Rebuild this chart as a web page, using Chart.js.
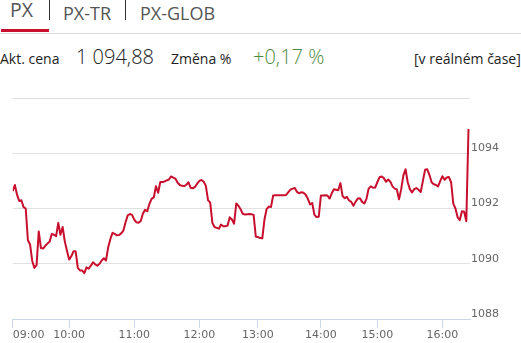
<!DOCTYPE html>
<html>
<head>
<meta charset="utf-8">
<script src="https://cdn.jsdelivr.net/npm/chart.js@4/dist/chart.umd.min.js"></script>
<style>
  html, body { margin: 0; padding: 0; background: #fff; }
  body { width: 521px; height: 343px; position: relative; overflow: hidden; font-family: "Open Sans", sans-serif; }
  .t { position: absolute; white-space: nowrap; line-height: 1; }
  .big { font-size: 20px; font-weight: 300; }
  .sep { position: absolute; top: 0; width: 1px; height: 20px; background: #333; }
  #tab-active { position: absolute; left: 1px; top: 29px; width: 48px; height: 3px; background: #c8102e; }
  #tab-line { position: absolute; left: 0; top: 33px; width: 521px; height: 1px; background: #ddd; }
  #chart-wrap { position: absolute; left: 0; top: 88px; width: 521px; height: 255px; }
</style>
</head>
<body>
  <!-- tabs -->
  <div class="t" style="left:10px; top:0px; font-size:19.5px; color:#555">PX</div>
  <div class="sep" style="left:49px"></div>
  <div class="t" style="left:63px; top:4px; font-size:18px; color:#555">PX-TR</div>
  <div class="sep" style="left:125px"></div>
  <div class="t" style="left:140px; top:4px; font-size:18px; color:#555">PX-GLOB</div>
  <div id="tab-active"></div>
  <div id="tab-line"></div>

  <!-- quote row -->
  <div class="t" style="left:0px; top:52px; font-size:14px; color:#222">Akt. cena</div>
  <div class="t big" style="left:76px; top:46.5px; color:#222">1 094,88</div>
  <div class="t" style="left:171px; top:52px; font-size:14px; color:#222">Změna %</div>
  <div class="t big" style="left:253px; top:46.5px; color:#4f8a45">+0,17 %</div>
  <div class="t" style="left:414px; top:52px; font-size:14px; color:#222">[v reálném čase]</div>

  <div id="chart-wrap"><canvas id="chart-canvas"></canvas></div>

<script>
// --- PX intraday data (one array per trading hour) ---
const hours = ['09:00', '10:00', '11:00', '12:00', '13:00', '14:00', '15:00', '16:00'];

const s09 = [1092.63, 1092.85, 1092.5, 1092.27, 1092.3, 1092.05, 1092.0, 1090.85, 1090.7, 1090.1,
  1089.85, 1089.95, 1091.17, 1090.57, 1090.55, 1090.65, 1090.73, 1090.8, 1091.08, 1091.05,
  1091.0, 1091.48, 1091.05, 1091.33, 1090.81, 1090.47];
const s10 = [1090.15, 1090.27, 1090.45, 1090.45, 1089.85, 1089.76, 1089.76, 1089.66, 1089.87, 1089.82,
  1089.93, 1090.05, 1089.98, 1089.93, 1090.0, 1090.12, 1090.2, 1090.12, 1090.6, 1090.9,
  1091.12, 1091.08, 1091.03, 1091.04, 1091.1, 1091.2, 1091.5, 1091.75, 1091.8, 1091.77];
const s11 = [1091.6, 1091.5, 1091.48, 1091.55, 1091.82, 1091.95, 1091.9, 1092.17, 1092.35, 1092.4,
  1092.81, 1092.57, 1092.96, 1092.96, 1092.98, 1093.02, 1093.05, 1093.16, 1093.12, 1093.08,
  1092.93, 1092.85, 1092.82, 1092.81, 1092.86, 1092.95, 1092.75, 1092.73, 1092.78, 1092.9];
const s12 = [1093.0, 1093.03, 1092.97, 1092.82, 1092.3, 1092.21, 1091.48, 1091.33, 1091.3, 1091.27,
  1091.42, 1091.36, 1091.36, 1091.38, 1091.68, 1091.6, 1091.45, 1092.18, 1092.1, 1091.97,
  1091.81, 1091.78, 1091.79, 1091.8, 1091.79, 1091.77, 1090.98];
const s13 = [1090.97, 1090.93, 1090.92, 1091.6, 1091.98, 1092.07, 1092.05, 1092.47, 1092.48, 1092.48,
  1092.48, 1092.48, 1092.48, 1092.49, 1092.59, 1092.68, 1092.72, 1092.74, 1092.6, 1092.55,
  1092.59, 1092.57, 1092.5, 1092.35, 1092.15, 1092.2, 1091.78, 1091.69, 1091.7];
const s14 = [1092.47, 1092.47, 1092.48, 1092.47, 1092.36, 1092.55, 1092.7, 1092.68, 1092.66, 1092.92,
  1092.45, 1092.37, 1092.42, 1092.29, 1092.24, 1092.1, 1092.25, 1092.36, 1092.37, 1092.24,
  1092.18, 1092.35, 1092.72, 1092.8, 1092.75, 1092.76];
const s15 = [1092.95, 1093.13, 1093.16, 1093.1, 1092.97, 1093.05, 1092.97, 1092.8, 1092.72, 1092.69,
  1092.33, 1092.7, 1093.2, 1093.42, 1092.95, 1092.7, 1092.58, 1092.7, 1092.74, 1092.68,
  1092.6, 1093.0, 1093.4, 1093.42, 1093.22, 1092.95, 1092.88, 1092.85, 1092.8, 1093.0];
const s16 = [1093.17, 1093.04, 1093.12, 1093.14, 1092.95, 1092.18, 1092.0, 1091.68, 1091.58, 1091.9,
  1091.88, 1091.54, 1094.88];

const yTicks = [1088, 1090, 1092, 1094, 1096];

// --- Build series (ordinal x: one slot per quote) ---
const blocks = [s09, s10, s11, s12, s13, s14, s15, s16];
const values = blocks.flat();
const points = values.map((v, i) => ({ x: i, y: v }));
const hourStarts = [];
let acc = 0;
blocks.forEach(b => { hourStarts.push(acc); acc += b.length; });

const axisFont = { family: '"DejaVu Sans", Verdana, sans-serif', size: 11 };

// x labels drawn by hand so the first one can sit left-aligned like the original
const hourLabels = {
  id: 'hourLabels',
  afterDraw(chart) {
    const { ctx, chartArea, scales } = chart;
    ctx.save();
    ctx.font = '11px "DejaVu Sans", Verdana, sans-serif';
    ctx.fillStyle = '#666';
    ctx.textBaseline = 'alphabetic';
    hourStarts.forEach((idx, k) => {
      ctx.textAlign = k === 0 ? 'left' : 'center';
      ctx.fillText(hours[k], scales.x.getPixelForValue(idx), chartArea.bottom + 19);
    });
    ctx.restore();
  }
};

new Chart(document.getElementById('chart-canvas'), {
  type: 'line',
  data: {
    datasets: [{
      data: points,
      borderColor: '#c8102e',
      borderWidth: 2,
      pointRadius: 0,
      tension: 0,
      fill: false,
      borderJoinStyle: 'round'
    }]
  },
  options: {
    responsive: true,
    maintainAspectRatio: false,
    animation: false,
    layout: { padding: { left: 12.7, top: 10, right: 0, bottom: 0 } },
    plugins: { legend: { display: false }, tooltip: { enabled: false } },
    scales: {
      x: {
        type: 'linear',
        min: 0,
        max: values.length - 1 + 0.7,
        afterBuildTicks: axis => { axis.ticks = hourStarts.map(v => ({ value: v })); },
        afterFit: axis => { axis.height = 24; },
        ticks: { display: false },
        grid: { drawOnChartArea: false, drawTicks: true, tickLength: 9, color: '#ccd6eb' },
        border: { display: true, color: '#ccd6eb' }
      },
      y: {
        position: 'right',
        min: yTicks[0],
        max: yTicks[yTicks.length - 1],
        afterBuildTicks: axis => { axis.ticks = yTicks.map(v => ({ value: v })); },
        afterFit: axis => { axis.width = 51; },
        ticks: {
          font: axisFont,
          color: '#666',
          padding: 1,
          labelOffset: -5,
          callback: v => (v === yTicks[yTicks.length - 1] ? '' : String(v))
        },
        grid: { color: '#e0e0e0', drawTicks: false },
        border: { display: false }
      }
    }
  },
  plugins: [hourLabels]
});
</script>
</body>
</html>
